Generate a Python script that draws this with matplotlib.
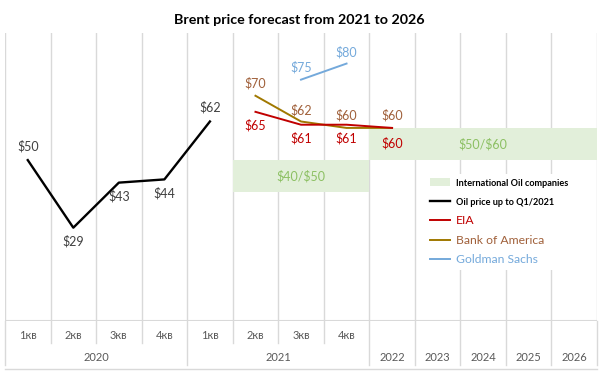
import numpy as np
import matplotlib.pyplot as plt
from matplotlib.lines import Line2D
from matplotlib.patches import Patch

plt.rcParams['font.family'] = ['Lato', 'DejaVu Sans']

# categories (13 columns)
quarters = ['1кв', '2кв', '3кв', '4кв', '1кв', '2кв', '3кв', '4кв']
years = ['2020', '2021', '2022', '2023', '2024', '2025', '2026']

# series: column index -> value
oil_x = [0, 1, 2, 3, 4]
oil_y = [50, 29, 43, 44, 62]
eia_x = [5, 6, 7, 8]
eia_y = [65, 61, 61, 60]
boa_x = [5, 6, 7, 8]
boa_y = [70, 62, 60, 60]
gs_x = [6, 7]
gs_y = [75, 80]

# international oil companies bands: (first col, last col, low, high)
ioc_bands = [(5, 7, 40, 50), (8, 12, 50, 60)]

c_red = '#C00000'
c_brown_line = '#A07800'
c_brown_txt = '#A0603A'
c_blue = '#74A9DB'
c_green = '#E2EFDA'
c_green_txt = '#8CC063'
c_label = '#404040'
c_grid = '#D9D9D9'

fig = plt.figure(figsize=(5.99, 3.74), dpi=100)
ax = fig.add_axes([5/599, 53/374, 592/599, 288/374])
ax.set_xlim(0, 13)
ax.set_ylim(0, 89.5)
ax.set_axisbelow(True)
for s in ax.spines.values():
    s.set_visible(False)
ax.set_xticks([])
ax.set_yticks([])

for i in range(14):
    ax.axvline(i, color=c_grid, lw=1, zorder=0)
ax.axhline(0, color=c_grid, lw=1.5, zorder=0)

# bands
for a, b, lo, hi in ioc_bands:
    ax.fill_between([a, b + 1], lo, hi, color=c_green, lw=0, zorder=1)
    ax.text((a + b + 1) / 2, (lo + hi) / 2, rf'\${lo}/\${hi}', color=c_green_txt,
            ha='center', va='center', fontsize=9, zorder=2)

def cx(xs):
    return np.array(xs) + 0.5

ax.plot(cx(oil_x), oil_y, color='black', lw=1.7, zorder=3)
ax.plot(cx(boa_x), boa_y, color=c_brown_line, lw=1.4, zorder=3)
ax.plot(cx(eia_x), eia_y, color=c_red, lw=1.4, zorder=4)
ax.plot(cx(gs_x), gs_y, color=c_blue, lw=1.4, zorder=3)

def labels(xs, ys, offs, color):
    for x, y, o in zip(xs, ys, offs):
        ax.annotate(rf'\${y}', (x + 0.5, y), xytext=(0, o), textcoords='offset points',
                    ha='center', va='center', color=color, fontsize=9)

labels(oil_x, oil_y, [10, -10, -10, -10, 10], c_label)
labels(eia_x, eia_y, [-10, -10, -10, -11], c_red)
labels(boa_x, boa_y, [9, 8, 9, 9], c_brown_txt)
labels(gs_x, gs_y, [9, 8], c_blue)

# multi-level category axis
tr = ax.get_xaxis_transform()
sep = dict(color=c_grid, lw=1, clip_on=False, transform=tr)
for i, q in enumerate(quarters):
    ax.text(i + 0.5, -0.052, q, transform=tr, ha='center', va='center',
            fontsize=8, color='#595959')
for i in range(1, 8):
    if i != 4:
        ax.plot([i, i], [0, -0.0764], **sep)
for i in [0, 4] + list(range(8, 14)):
    ax.plot([i, i], [0, -0.153], **sep)
ax.text(2, -0.128, years[0], transform=tr, ha='center', va='center', fontsize=8, color='#595959')
ax.text(6, -0.128, years[1], transform=tr, ha='center', va='center', fontsize=8, color='#595959')
for i, yr in enumerate(years[2:]):
    ax.text(8.5 + i, -0.128, yr, transform=tr, ha='center', va='center', fontsize=8, color='#595959')
ax.plot([0, 13], [-0.167, -0.167], color=c_grid, lw=1, clip_on=False, transform=tr)

# legend
handles = [Patch(facecolor=c_green, edgecolor='none'),
           Line2D([], [], color='black', lw=1.7),
           Line2D([], [], color=c_red, lw=1.4),
           Line2D([], [], color=c_brown_line, lw=1.4),
           Line2D([], [], color=c_blue, lw=1.4)]
names = ['International Oil companies', 'Oil price up to Q1/2021', 'EIA',
         'Bank of America', 'Goldman Sachs']
leg = ax.legend(handles, names, loc='upper left', bbox_to_anchor=(415/592, (321-168)/288),
                frameon=True, facecolor='white', edgecolor='none', framealpha=1,
                fontsize=8.7, handlelength=1.6, handleheight=0.6, handletextpad=0.5,
                labelspacing=0.7, borderpad=0.35, fancybox=False)
leg.set_zorder(5)
tcols = ['black', 'black', c_red, c_brown_txt, c_blue]
for t, c, w in zip(leg.get_texts(), tcols, ['bold', 'bold', 'normal', 'normal', 'normal']):
    t.set_color(c)
    t.set_fontweight(w)
    if w == 'bold':
        t.set_fontsize(6.6)

fig.text(0.5, 1 - 20/374, 'Brent price forecast from 2021 to 2026', ha='center', va='center',
         fontsize=10.3, fontweight='bold')

fig.savefig('out.png', dpi=100)
